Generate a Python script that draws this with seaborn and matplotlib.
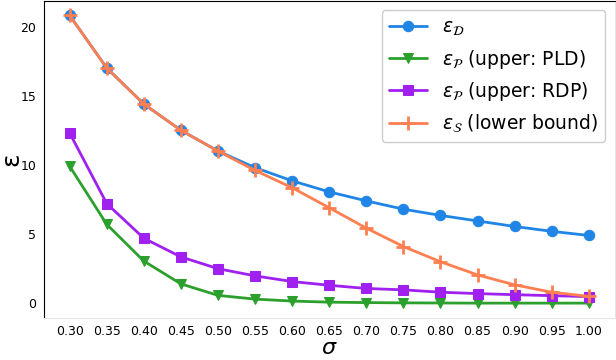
import numpy as np
import pandas as pd
import matplotlib
matplotlib.use("Agg")
import matplotlib.pyplot as plt
import seaborn as sns

sigma = [0.30, 0.35, 0.40, 0.45, 0.50, 0.55, 0.60, 0.65, 0.70, 0.75, 0.80, 0.85, 0.90, 0.95, 1.00]
eps_d = [20.8, 17.0, 14.4, 12.5, 11.0, 9.8, 8.85, 8.05, 7.4, 6.8, 6.35, 5.95, 5.55, 5.2, 4.9]
eps_p_pld = [9.9, 5.7, 3.05, 1.4, 0.57, 0.3, 0.16, 0.08, 0.05, 0.03, 0.02, 0.01, 0.01, 0.01, 0.01]
eps_p_rdp = [12.3, 7.2, 4.7, 3.35, 2.5, 1.98, 1.57, 1.3, 1.07, 0.97, 0.8, 0.7, 0.62, 0.55, 0.48]
eps_s = [20.8, 17.0, 14.4, 12.5, 11.0, 9.6, 8.35, 6.9, 5.43, 4.1, 3.0, 2.05, 1.33, 0.8, 0.5]

labels = [r"$\varepsilon_{\mathcal{D}}$",
          r"$\varepsilon_{\mathcal{P}}$ (upper: PLD)",
          r"$\varepsilon_{\mathcal{P}}$ (upper: RDP)",
          r"$\varepsilon_{\mathcal{S}}$ (lower bound)"]
colors = ["#1f85e6", "#2ca02c", "#a020f0", "#ff7f50"]
markers = ["o", "v", "s", "+"]

sns.set_style("white", {"text.color": "black", "xtick.color": "black", "ytick.color": "black",
                        "axes.labelcolor": "black"})
fig = plt.figure(figsize=(6.16, 3.6), dpi=100)
ax = fig.add_axes([0.071, 0.118, 0.927, 0.879])

for vals, lab, col, mk in zip([eps_d, eps_p_pld, eps_p_rdp, eps_s], labels, colors, markers):
    df = pd.DataFrame({"sigma": sigma, "eps": vals})
    kw = dict(markersize=7.5)
    if mk == "+":
        kw = dict(markersize=10, markeredgewidth=2)
    sns.lineplot(data=df, x="sigma", y="eps", ax=ax, color=col, marker=mk,
                 linewidth=2, label=lab, markeredgecolor=col, **kw)

ax.set_xticks(sigma)
ax.set_xticklabels([f"{s:.2f}" for s in sigma], fontsize=9)
ax.set_yticks([0, 5, 10, 15, 20])
ax.tick_params(axis="y", labelsize=9, pad=2)
ax.tick_params(axis="x", pad=2)
ax.set_xlabel(r"$\sigma$", fontsize=16, labelpad=0)
ax.set_ylabel("ε", fontsize=18)
ax.yaxis.set_label_coords(-0.036, 0.5)

for side in ["left", "top"]:
    ax.spines[side].set_color("black")
for side in ["right", "bottom"]:
    ax.spines[side].set_color("#e6e6e6")

ax.legend(loc="upper right", fontsize=13.5, frameon=True, framealpha=1)

fig.savefig("out.png", dpi=100)
